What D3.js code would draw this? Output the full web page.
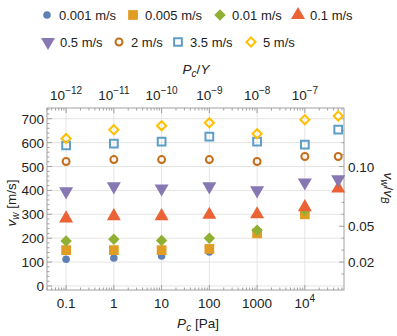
<!DOCTYPE html>
<html>
<head>
<meta charset="utf-8">
<script src="https://cdn.jsdelivr.net/npm/d3@7"></script>
<style>
  body { margin: 0; background: #fff; }
  text { font-family: "Liberation Sans", Arial, sans-serif; fill: #222; }
</style>
</head>
<body>
<div id="chart"></div>
<script>
// Pressure values (Pa) and one array of wind speeds per series (null = no point)
const pressures = [0.1, 1, 10, 100, 1000, 1e4, 5e4];
const seriesNames = ["0.001 m/s", "0.005 m/s", "0.01 m/s", "0.1 m/s", "0.5 m/s", "2 m/s", "3.5 m/s", "5 m/s"];
const v0001 = [112, 117, 125, 142, 220, 300, null];
const v0005 = [150, 150, 150, 155, 220, 300, null];
const v001 = [188, 195, 190, 200, 233, 317, null];
const v01 = [283, 292, 292, 298, 300, 330, 408];
const v05 = [396, 417, 408, 417, 400, 433, 446];
const v2 = [521, 529, 529, 529, 521, 542, 542];
const v35 = [588, 596, 604, 625, 604, 592, 654];
const v5 = [617, 654, 671, 683, 637, 696, 712];
const bottomTicks = [0.1, 1, 10, 100, 1000, 1e4];
const topTicks = [-12, -11, -10, -9, -8, -7];
const leftTicks = [0, 100, 200, 300, 400, 500, 600, 700];
const rightTicks = [0.02, 0.05, 0.10];
const youngModulus = 1e11;
const vB = 5000;

const seriesValues = [v0001, v0005, v001, v01, v05, v2, v35, v5];
const colors = ["#5E81B5", "#E19C24", "#8FB032", "#EB6235", "#8778B3", "#C56E1A", "#5D9EC7", "#FFBF00"];
const shapes = ["circle", "square", "diamond", "up", "down", "ocircle", "osquare", "odiamond"];

const W = 397, H = 336;
const plot = { left: 47, right: 344, top: 108, bottom: 290 };

const svg = d3.select("#chart").append("svg")
  .attr("width", W).attr("height", H);

const x = d3.scaleLog()
  .domain([Math.pow(10, -1.4), Math.pow(10, 4.82)])
  .range([plot.left, plot.right]);
const y = d3.scaleLinear()
  .domain([-17, 745])
  .range([plot.bottom, plot.top]);

// grid lines
const grid = svg.append("g").attr("stroke", "#e4e4e4").attr("stroke-width", 1);
bottomTicks.forEach(t => {
  grid.append("line").attr("x1", x(t)).attr("x2", x(t))
    .attr("y1", plot.top).attr("y2", plot.bottom);
});
leftTicks.forEach(t => {
  grid.append("line").attr("x1", plot.left).attr("x2", plot.right)
    .attr("y1", y(t)).attr("y2", y(t));
});

// frame
svg.append("rect")
  .attr("x", plot.left).attr("y", plot.top)
  .attr("width", plot.right - plot.left).attr("height", plot.bottom - plot.top)
  .attr("fill", "none").attr("stroke", "#a0a0a0").attr("stroke-width", 1);

const tickColor = "#a0a0a0";
const ticks = svg.append("g").attr("stroke", tickColor).attr("stroke-width", 1);

// log minor ticks on bottom and top
const [lo, hi] = x.domain();
for (let e = -2; e <= 5; e++) {
  for (let m = 1; m <= 9; m++) {
    const v = m * Math.pow(10, e);
    if (v < lo || v > hi) continue;
    const len = m === 1 ? 5 : 2.5;
    const px = x(v);
    ticks.append("line").attr("x1", px).attr("x2", px)
      .attr("y1", plot.bottom).attr("y2", plot.bottom - len);
    ticks.append("line").attr("x1", px).attr("x2", px)
      .attr("y1", plot.top).attr("y2", plot.top + len);
  }
}

// left ticks: major every 100, minor every 20
for (let v = 0; v <= 740; v += 20) {
  const len = v % 100 === 0 ? 5 : 2.5;
  ticks.append("line").attr("x1", plot.left).attr("x2", plot.left + len)
    .attr("y1", y(v)).attr("y2", y(v));
}
// right ticks: major at 0.02/0.05/0.10, minor every 0.01
for (let k = 1; k <= 14; k++) {
  const r = k / 100;
  const major = rightTicks.some(t => Math.abs(t - r) < 1e-9);
  const len = major ? 5 : 2.5;
  const py = y(r * vB);
  ticks.append("line").attr("x1", plot.right).attr("x2", plot.right - len)
    .attr("y1", py).attr("y2", py);
}

const fs = 13.5;

// bottom labels
bottomTicks.forEach(t => {
  const tx = svg.append("text").attr("x", x(t)).attr("y", plot.bottom + 18)
    .attr("text-anchor", "middle").attr("font-size", fs);
  if (t >= 1e4) {
    tx.append("tspan").text("10");
    tx.append("tspan").attr("font-size", 10).attr("dy", -6).text(Math.round(Math.log10(t)));
  } else {
    tx.text(t);
  }
});

// top labels (Pc / Y)
topTicks.forEach(e => {
  const tx = svg.append("text").attr("x", x(Math.pow(10, e) * youngModulus)).attr("y", plot.top - 8)
    .attr("text-anchor", "middle").attr("font-size", fs);
  tx.append("tspan").text("10");
  tx.append("tspan").attr("font-size", 10).attr("dy", -6).text("\u2212" + Math.abs(e));
});

// left labels
leftTicks.forEach(t => {
  svg.append("text").attr("x", plot.left - 3).attr("y", y(t) + 5)
    .attr("text-anchor", "end").attr("font-size", fs).text(t);
});

// right labels
rightTicks.forEach(t => {
  svg.append("text").attr("x", plot.right + 4).attr("y", y(t * vB) + 5)
    .attr("text-anchor", "start").attr("font-size", fs).text(t.toFixed(2));
});

// axis titles
const bt = svg.append("text").attr("x", 198).attr("y", 328)
  .attr("text-anchor", "middle").attr("font-size", fs);
bt.append("tspan").attr("font-style", "italic").text("P");
bt.append("tspan").attr("font-style", "italic").attr("font-size", 10).attr("dy", 3).text("c");
bt.append("tspan").attr("dy", -3).text(" [Pa]");

const tt = svg.append("text").attr("x", 196).attr("y", 74)
  .attr("text-anchor", "middle").attr("font-size", fs);
tt.append("tspan").attr("font-style", "italic").text("P");
tt.append("tspan").attr("font-style", "italic").attr("font-size", 10).attr("dy", 3).text("c");
tt.append("tspan").attr("dy", -3).text("/");
tt.append("tspan").attr("font-style", "italic").text("Y");

const lt = svg.append("text")
  .attr("transform", `translate(16,${(plot.top + plot.bottom) / 2 + 4}) rotate(-90)`)
  .attr("text-anchor", "middle").attr("font-size", fs);
lt.append("tspan").attr("font-style", "italic").text("v");
lt.append("tspan").attr("font-style", "italic").attr("font-size", 10).attr("dy", 3).text("w");
lt.append("tspan").attr("dy", -3).text(" [m/s]");

const rt = svg.append("text")
  .attr("transform", `translate(384,188) rotate(90)`)
  .attr("text-anchor", "middle").attr("font-size", fs);
rt.append("tspan").attr("font-style", "italic").text("v");
rt.append("tspan").attr("font-style", "italic").attr("font-size", 10).attr("dy", 3).text("w");
rt.append("tspan").attr("dy", -3).text("/");
rt.append("tspan").attr("font-style", "italic").text("v");
rt.append("tspan").attr("font-style", "italic").attr("font-size", 10).attr("dy", 3).text("B");

// marker drawing
function drawMarker(g, shape, color, cx, cy) {
  const open = shape.startsWith("o");
  let sym, size, rot = 0;
  switch (shape) {
    case "circle": sym = d3.symbolCircle; size = 45; break;
    case "square": sym = d3.symbolSquare; size = 95; break;
    case "diamond": sym = d3.symbolSquare; size = 66; rot = 45; break;
    case "up": sym = d3.symbolTriangle; size = 85; break;
    case "down": sym = d3.symbolTriangle; size = 85; rot = 180; break;
    case "ocircle": sym = d3.symbolCircle; size = 38; break;
    case "osquare": sym = d3.symbolSquare; size = 60; break;
    case "odiamond": sym = d3.symbolSquare; size = 42; rot = 45; break;
  }
  g.append("path")
    .attr("d", d3.symbol().type(sym).size(size)())
    .attr("transform", `translate(${cx},${cy}) rotate(${rot})`)
    .attr("fill", open ? "none" : color)
    .attr("stroke", open ? color : "none")
    .attr("stroke-width", open ? 2 : 0);
}

// data points
seriesValues.forEach((vals, i) => {
  const g = svg.append("g");
  vals.forEach((v, j) => {
    if (v == null) return;
    drawMarker(g, shapes[i], colors[i], x(pressures[j]), y(v));
  });
});

// legend
const legendPos = [
  [47, 15], [133, 15], [220, 15], [298, 15],
  [48, 42], [119, 42], [178, 42], [251, 42]
];
const legend = svg.append("g");
seriesNames.forEach((name, i) => {
  const [lx, ly] = legendPos[i];
  drawMarker(legend, shapes[i], colors[i], lx, ly);
  legend.append("text").attr("x", lx + 12).attr("y", ly + 5)
    .attr("font-size", 13).text(name);
});
</script>
</body>
</html>
